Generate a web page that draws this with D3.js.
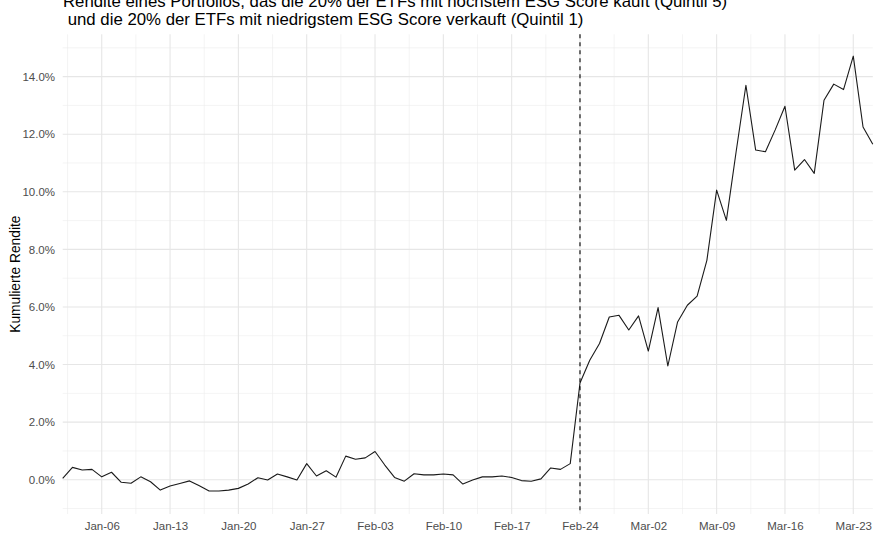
<!DOCTYPE html>
<html><head><meta charset="utf-8">
<script src="https://cdn.jsdelivr.net/npm/d3@7"></script>
<style>
html,body{margin:0;padding:0;background:#fff;}
text{font-family:"Liberation Sans",Arial,sans-serif;}
</style></head>
<body>
<svg id="chart" width="880" height="540"></svg>
<script>
// ---- data ----
const startDate = "2020-01-02";
const returnsPct = [
  // Jan 2 .. Jan 31
  0.05, 0.43, 0.34, 0.36, 0.10, 0.26, -0.09, -0.12, 0.10, -0.07,
  -0.36, -0.22, -0.13, -0.04, -0.21, -0.39, -0.39, -0.36, -0.30, -0.15,
  0.07, -0.01, 0.20, 0.10, -0.01, 0.56, 0.13, 0.31, 0.09, 0.82,
  // Feb 1 .. Feb 29
  0.71, 0.76, 0.98, 0.51, 0.08, -0.05, 0.21, 0.17, 0.17, 0.20,
  0.17, -0.15, -0.01, 0.10, 0.10, 0.13, 0.08, -0.03, -0.05, 0.03,
  0.41, 0.36, 0.56, 3.36, 4.15, 4.73, 5.65, 5.71, 5.20,
  // Mar 1 .. Mar 25
  5.69, 4.47, 5.98, 3.95, 5.48, 6.06, 6.38, 7.62, 10.06, 9.01,
  11.40, 13.70, 11.45, 11.39, 12.15, 12.97, 10.75, 11.12, 10.64, 13.18,
  13.74, 13.55, 14.71, 12.25, 11.65
];
const eventDate = "2020-02-24";
const xTickDates = ["2020-01-06","2020-01-13","2020-01-20","2020-01-27","2020-02-03","2020-02-10",
  "2020-02-17","2020-02-24","2020-03-02","2020-03-09","2020-03-16","2020-03-23"];
const yTicks = [0, 2, 4, 6, 8, 10, 12, 14];
const yMinorTicks = [-1, 1, 3, 5, 7, 9, 11, 13, 15];
const titleLines = ["Rendite eines Portfolios, das die 20% der ETFs mit höchstem ESG Score kauft (Quintil 5)",
  " und die 20% der ETFs mit niedrigstem ESG Score verkauft (Quintil 1)"];
const yTitle = "Kumulierte Rendite";

// ---- build ----
(function () {
const parse = d3.utcParse("%Y-%m-%d");
const d0 = parse(startDate);
const data = returnsPct.map((v, i) => ({ date: d3.utcDay.offset(d0, i), value: v }));
const ticks = xTickDates.map(parse);
const minorX = ticks.map(t => d3.utcHour.offset(t, -84)); // mid-week minor breaks

const svg = d3.select("#chart");
const pL = 62.7, pR = 872.8, pT = 34.3, pB = 514;

const x = d3.scaleUtc().domain(d3.extent(data, d => d.date)).range([pL, pR]);
const y = d3.scaleLinear().domain([-1.19, 15.47]).range([pB, pT]);

const grid = svg.append("g");
grid.selectAll("line.mx").data(minorX.filter(d => x(d) >= pL && x(d) <= pR)).join("line")
  .attr("class", "mx")
  .attr("x1", d => x(d)).attr("x2", d => x(d)).attr("y1", pT).attr("y2", pB)
  .attr("stroke", "#ececec").attr("stroke-width", 0.6);
grid.selectAll("line.my").data(yMinorTicks).join("line")
  .attr("class", "my")
  .attr("x1", pL).attr("x2", pR).attr("y1", d => y(d)).attr("y2", d => y(d))
  .attr("stroke", "#ececec").attr("stroke-width", 0.6);
grid.selectAll("line.Mx").data(ticks).join("line")
  .attr("class", "Mx")
  .attr("x1", d => x(d)).attr("x2", d => x(d)).attr("y1", pT).attr("y2", pB)
  .attr("stroke", "#e6e6e6").attr("stroke-width", 1.1);
grid.selectAll("line.My").data(yTicks).join("line")
  .attr("class", "My")
  .attr("x1", pL).attr("x2", pR).attr("y1", d => y(d)).attr("y2", d => y(d))
  .attr("stroke", "#e6e6e6").attr("stroke-width", 1.1);

const xAxis = d3.axisBottom(x).tickValues(ticks).tickFormat(d3.utcFormat("%b-%d")).tickSize(0).tickPadding(0);
const gx = svg.append("g").attr("transform", `translate(0,${pB})`).call(xAxis);
gx.select(".domain").remove();
gx.selectAll("text").attr("fill", "#4d4d4d").attr("font-size", "11.5px")
  .attr("font-family", "Liberation Sans, Arial, sans-serif")
  .attr("dy", null).attr("y", 16);

const yAxis = d3.axisLeft(y).tickValues(yTicks).tickFormat(d => d3.format(".1f")(d) + "%").tickSize(0).tickPadding(0);
const gy = svg.append("g").attr("transform", `translate(55,0)`).call(yAxis);
gy.select(".domain").remove();
gy.selectAll("text").attr("fill", "#4d4d4d").attr("font-size", "11.5px")
  .attr("font-family", "Liberation Sans, Arial, sans-serif");

svg.append("path").datum(data)
  .attr("fill", "none").attr("stroke", "#1a1a1a").attr("stroke-width", 1.1)
  .attr("stroke-linejoin", "round")
  .attr("d", d3.line().x(d => x(d.date)).y(d => y(d.value)));

const ev = parse(eventDate);
svg.append("line").attr("x1", x(ev)).attr("x2", x(ev)).attr("y1", pT).attr("y2", pB)
  .attr("stroke", "#000").attr("stroke-width", 1.1).attr("stroke-dasharray", "4,4");

svg.append("g").selectAll("text").data(titleLines).join("text")
  .attr("x", 63).attr("y", (d, i) => 6.5 + i * 18.5)
  .attr("font-size", "16.8px").attr("fill", "#000")
  .style("white-space", "pre")
  .text(d => d);

svg.append("text")
  .attr("transform", `translate(20,${(pT + pB) / 2}) rotate(-90)`)
  .attr("text-anchor", "middle").attr("font-size", "13.8px").attr("fill", "#000")
  .text(yTitle);
})();
</script>
</body></html>
